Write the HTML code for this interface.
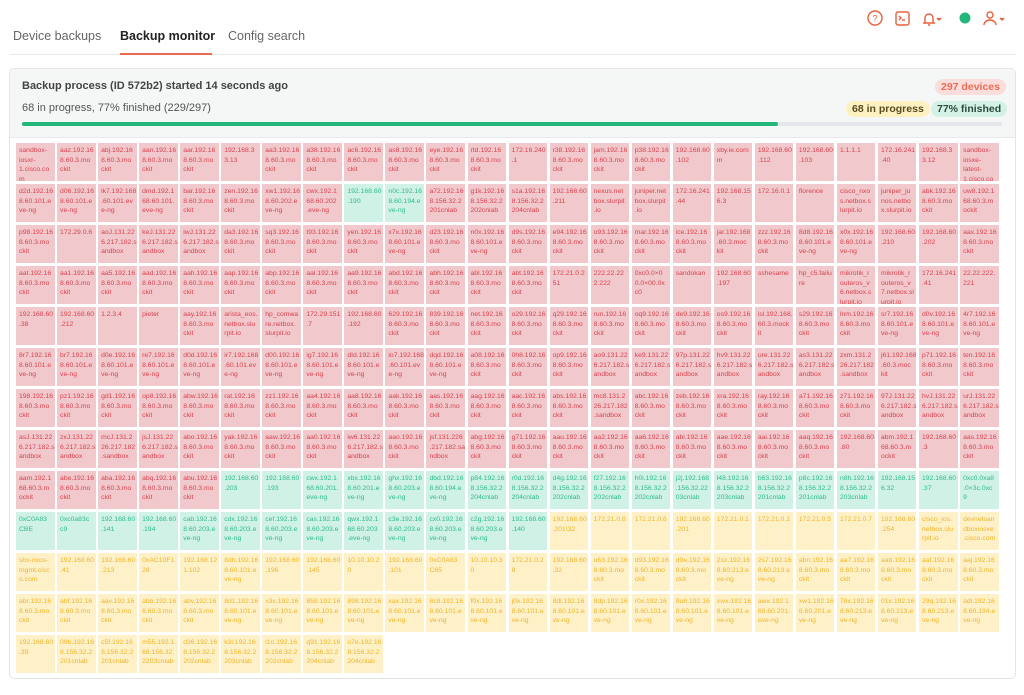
<!DOCTYPE html>
<html><head><meta charset="utf-8">
<style>
*{box-sizing:border-box;margin:0;padding:0}
body{width:1024px;height:695px;background:#fff;font-family:"Liberation Sans",sans-serif;position:relative;overflow:hidden;color:#333}
.tab{position:absolute;top:29px;font-size:12.5px;color:#666}
.tabline{position:absolute;left:10px;top:54px;width:1006px;height:1px;background:#e8e9eb}
.card{position:absolute;left:9px;top:68px;width:1007px;height:611px;border:1px solid #e2e4e6;border-radius:5px;background:#fff}
.head{position:absolute;left:0;top:0;width:100%;height:69px;background:#f5f6f6;border-bottom:1px solid #e6e8ea;border-radius:5px 5px 0 0}
.badge{position:absolute;height:16px;line-height:16px;border-radius:8px;font-size:10.5px;font-weight:bold;padding:0 6px}
.grid{position:absolute;left:16px;top:143px;display:grid;grid-template-columns:repeat(24,38.5px);grid-auto-rows:38px;column-gap:2.55px;row-gap:3px}
.grid i{font-style:normal;display:block;background:#f1c9cc;color:#d8424f;font-size:6.8px;line-height:9.6px;padding:3px 0 0 3px;white-space:nowrap;overflow:hidden}
.grid i.g{background:#d0f1e6;color:#2dbd88}
.grid i.y{background:#fef1c8;color:#f0b429}
.ic{position:absolute;top:10px}
</style></head><body>
<div class="tab" style="left:13px">Device backups</div>
<div class="tab" style="left:120px;color:#222;font-weight:bold">Backup monitor</div>
<div class="tab" style="left:228px">Config search</div>
<div class="tabline"></div>
<div style="position:absolute;left:120px;top:53px;width:92px;height:2px;background:#ef6a4c"></div>
<svg class="ic" style="left:866px" width="150" height="18" viewBox="0 0 150 18" fill="none" stroke="#e8603c" stroke-width="1.4">
<circle cx="9" cy="8" r="7"/><text x="9" y="11.5" font-size="9" text-anchor="middle" fill="#e8603c" stroke="none" font-family="Liberation Sans">?</text>
<rect x="30" y="2" width="13" height="13" rx="2"/><path d="M33 6l2 2-2 2M36 10h3"/>
<path d="M57 13h12M59 13V8a4 4 0 0 1 8 0v5M62 15h2"/><path d="M71 8l2 2 2-2" fill="#e8603c"/>
<circle cx="99" cy="8" r="5.5" fill="#22b67a" stroke="none"/>
<circle cx="124" cy="5" r="3"/><path d="M118 15a6 5 0 0 1 12 0"/><path d="M134 8l2 2 2-2" fill="#e8603c"/>
</svg>
<div class="card">
<div class="head">
<div style="position:absolute;left:12px;top:11px;font-size:11px;font-weight:bold;color:#444">Backup process (ID 572b2) started 14 seconds ago</div>
<div style="position:absolute;left:12px;top:33px;font-size:11px;color:#555">68 in progress, 77% finished (229/297)</div>
<div style="position:absolute;left:12px;top:53px;width:980px;height:4px;background:#e4e6e9;border-radius:2px"><div style="width:756px;height:4px;background:#22b67a;border-radius:2px"></div></div>
<div class="badge" style="left:925px;top:10px;background:#fbdedb;color:#ee6b55">297 devices</div>
<div class="badge" style="left:836px;top:32px;background:#fdf1c2;color:#5a4a20">68 in progress</div>
<div class="badge" style="left:921px;top:32px;background:#d3f1e5;color:#2d4a3e">77% finished</div>
</div>
</div>
<div class="grid">
<i>sandbox-<br>iosxr-<br>1.cisco.co<br>m</i><i>aaz.192.16<br>8.60.3.mo<br>ckit</i><i>abj.192.16<br>8.60.3.mo<br>ckit</i><i>aan.192.16<br>8.60.3.mo<br>ckit</i><i>aar.192.16<br>8.60.3.mo<br>ckit</i><i>192.168.3<br>3.13</i><i>aa3.192.16<br>8.60.3.mo<br>ckit</i><i>a38.192.16<br>8.60.3.mo<br>ckit</i><i>ac6.192.16<br>8.60.3.mo<br>ckit</i><i>as8.192.16<br>8.60.3.mo<br>ckit</i><i>eye.192.16<br>8.60.3.mo<br>ckit</i><i>rtd.192.16<br>8.60.3.mo<br>ckit</i><i>172.16.240<br>.1</i><i>r38.192.16<br>8.60.3.mo<br>ckit</i><i>jam.192.16<br>8.60.3.mo<br>ckit</i><i>p38.192.16<br>8.60.3.mo<br>ckit</i><i>192.168.60<br>.102</i><i>xby.ie.com<br>m</i><i>192.168.60<br>.112</i><i>192.168.60<br>.103</i><i>1.1.1.1</i><i>172.16.241<br>.40</i><i>192.168.3<br>3.12</i><i>sandbox-<br>iosxe-<br>latest-<br>1.cisco.co</i>
<i>d2d.192.16<br>8.60.101.e<br>ve-ng</i><i>d06.192.16<br>8.60.101.e<br>ve-ng</i><i>lk7.192.168<br>.60.101.ev<br>e-ng</i><i>dmd.192.1<br>68.60.101.<br>eve-ng</i><i>bar.192.16<br>8.60.3.mo<br>ckit</i><i>zen.192.16<br>8.60.3.mo<br>ckit</i><i>xw1.192.16<br>8.60.202.e<br>ve-ng</i><i>cwx.192.1<br>68.60.202<br>.eve-ng</i><i class="g">192.168.60<br>.190</i><i class="g">n0c.192.16<br>8.60.194.e<br>ve-ng</i><i>a72.192.16<br>8.156.32.2<br>201cnlab</i><i>g1k.192.16<br>8.156.32.2<br>202cnlab</i><i>s1a.192.16<br>8.156.32.2<br>204cnlab</i><i>192.168.60<br>.211</i><i>nexus.net<br>box.slurpit<br>.io</i><i>juniper.net<br>box.slurpit<br>.io</i><i>172.16.241<br>.44</i><i>192.168.15<br>6.3</i><i>172.16.0.1</i><i>florence</i><i>cisco_nxo<br>s.netbox.s<br>lurpit.io</i><i>juniper_ju<br>nos.netbo<br>x.slurpit.io</i><i>abk.192.16<br>8.60.3.mo<br>ckit</i><i>uw8.192.1<br>68.60.3.m<br>ockit</i>
<i>p98.192.16<br>8.60.3.mo<br>ckit</i><i>172.29.0.6</i><i>aoJ.131.22<br>6.217.182.s<br>andbox</i><i>keJ.131.22<br>6.217.182.s<br>andbox</i><i>iwJ.131.22<br>6.217.182.s<br>andbox</i><i>da3.192.16<br>8.60.3.mo<br>ckit</i><i>sq3.192.16<br>8.60.3.mo<br>ckit</i><i>t93.192.16<br>8.60.3.mo<br>ckit</i><i>yen.192.16<br>8.60.3.mo<br>ckit</i><i>x7x.192.16<br>8.60.101.e<br>ve-ng</i><i>d23.192.16<br>8.60.3.mo<br>ckit</i><i>n0x.192.16<br>8.60.101.e<br>ve-ng</i><i>d9s.192.16<br>8.60.3.mo<br>ckit</i><i>e94.192.16<br>8.60.3.mo<br>ckit</i><i>o93.192.16<br>8.60.3.mo<br>ckit</i><i>mar.192.16<br>8.60.3.mo<br>ckit</i><i>ice.192.16<br>8.60.3.mo<br>ckit</i><i>jar.192.168<br>.60.3.moc<br>kit</i><i>zzz.192.16<br>8.60.3.mo<br>ckit</i><i>8d8.192.16<br>8.60.101.e<br>ve-ng</i><i>x0x.192.16<br>8.60.101.e<br>ve-ng</i><i>192.168.60<br>.210</i><i>192.168.60<br>.202</i><i>aax.192.16<br>8.60.3.mo<br>ckit</i>
<i>aat.192.16<br>8.60.3.mo<br>ckit</i><i>aa1.192.16<br>8.60.3.mo<br>ckit</i><i>aa5.192.16<br>8.60.3.mo<br>ckit</i><i>aad.192.16<br>8.60.3.mo<br>ckit</i><i>aah.192.16<br>8.60.3.mo<br>ckit</i><i>aap.192.16<br>8.60.3.mo<br>ckit</i><i>abp.192.16<br>8.60.3.mo<br>ckit</i><i>aal.192.16<br>8.60.3.mo<br>ckit</i><i>aa9.192.16<br>8.60.3.mo<br>ckit</i><i>abd.192.16<br>8.60.3.mo<br>ckit</i><i>abh.192.16<br>8.60.3.mo<br>ckit</i><i>abl.192.16<br>8.60.3.mo<br>ckit</i><i>abt.192.16<br>8.60.3.mo<br>ckit</i><i>172.21.0.2<br>51</i><i>222.22.22<br>2.222</i><i>0xc0.0×0<br>0.0×00.0x<br>c0</i><i>sandokan</i><i>192.168.60<br>.197</i><i>sshesame</i><i>hp_c5.failu<br>re</i><i>mikrotik_r<br>outeros_v<br>6.netbox.s<br>lurpit.io</i><i>mikrotik_r<br>outeros_v<br>7.netbox.sl<br>urpit.io</i><i>172.16.241<br>.41</i><i>22.22.222.<br>221</i>
<i>192.168.60<br>.38</i><i>192.168.60<br>.212</i><i>1.2.3.4</i><i>pieter</i><i>aay.192.16<br>8.60.3.mo<br>ckit</i><i>arista_eos.<br>netbox.slu<br>rpit.io</i><i>hp_comwa<br>re.netbox.<br>slurpit.io</i><i>172.29.151<br>.7</i><i>192.168.60<br>.192</i><i>629.192.16<br>8.60.3.mo<br>ckit</i><i>839.192.16<br>8.60.3.mo<br>ckit</i><i>net.192.16<br>8.60.3.mo<br>ckit</i><i>o29.192.16<br>8.60.3.mo<br>ckit</i><i>q29.192.16<br>8.60.3.mo<br>ckit</i><i>run.192.16<br>8.60.3.mo<br>ckit</i><i>oq9.192.16<br>8.60.3.mo<br>ckit</i><i>de9.192.16<br>8.60.3.mo<br>ckit</i><i>os9.192.16<br>8.60.3.mo<br>ckit</i><i>isl.192.168.<br>60.3.mock<br>it</i><i>s29.192.16<br>8.60.3.mo<br>ckit</i><i>lnm.192.16<br>8.60.3.mo<br>ckit</i><i>sr7.192.16<br>8.60.101.e<br>ve-ng</i><i>d0v.192.16<br>8.60.101.e<br>ve-ng</i><i>4r7.192.16<br>8.60.101.e<br>ve-ng</i>
<i>8r7.192.16<br>8.60.101.e<br>ve-ng</i><i>br7.192.16<br>8.60.101.e<br>ve-ng</i><i>d0e.192.16<br>8.60.101.e<br>ve-ng</i><i>re7.192.16<br>8.60.101.e<br>ve-ng</i><i>d0d.192.16<br>8.60.101.e<br>ve-ng</i><i>ir7.192.168<br>.60.101.ev<br>e-ng</i><i>d00.192.16<br>8.60.101.e<br>ve-ng</i><i>ig7.192.16<br>8.60.101.e<br>ve-ng</i><i>dId.192.16<br>8.60.101.e<br>ve-ng</i><i>io7.192.168<br>.60.101.ev<br>e-ng</i><i>dqd.192.16<br>8.60.101.e<br>ve-ng</i><i>a08.192.16<br>8.60.3.mo<br>ckit</i><i>0h8.192.16<br>8.60.3.mo<br>ckit</i><i>op9.192.16<br>8.60.3.mo<br>ckit</i><i>ao9.131.22<br>6.217.182.s<br>andbox</i><i>ke9.131.22<br>6.217.182.s<br>andbox</i><i>97p.131.22<br>6.217.182.s<br>andbox</i><i>hv9.131.22<br>6.217.182.s<br>andbox</i><i>ure.131.22<br>6.217.182.s<br>andbox</i><i>as3.131.22<br>6.217.182.s<br>andbox</i><i>zxm.131.2<br>26.217.182<br>.sandbox</i><i>j61.192.168<br>.60.3.moc<br>kit</i><i>p71.192.16<br>8.60.3.mo<br>ckit</i><i>ten.192.16<br>8.60.3.mo<br>ckit</i>
<i>198.192.16<br>8.60.3.mo<br>ckit</i><i>pz1.192.16<br>8.60.3.mo<br>ckit</i><i>gd1.192.16<br>8.60.3.mo<br>ckit</i><i>op8.192.16<br>8.60.3.mo<br>ckit</i><i>abw.192.16<br>8.60.3.mo<br>ckit</i><i>rat.192.16<br>8.60.3.mo<br>ckit</i><i>zz1.192.16<br>8.60.3.mo<br>ckit</i><i>aa4.192.16<br>8.60.3.mo<br>ckit</i><i>aa8.192.16<br>8.60.3.mo<br>ckit</i><i>aak.192.16<br>8.60.3.mo<br>ckit</i><i>aas.192.16<br>8.60.3.mo<br>ckit</i><i>aag.192.16<br>8.60.3.mo<br>ckit</i><i>aac.192.16<br>8.60.3.mo<br>ckit</i><i>abs.192.16<br>8.60.3.mo<br>ckit</i><i>mc8.131.2<br>26.217.182<br>.sandbox</i><i>abc.192.16<br>8.60.3.mo<br>ckit</i><i>zeb.192.16<br>8.60.3.mo<br>ckit</i><i>xra.192.16<br>8.60.3.mo<br>ckit</i><i>ray.192.16<br>8.60.3.mo<br>ckit</i><i>a71.192.16<br>8.60.3.mo<br>ckit</i><i>z71.192.16<br>8.60.3.mo<br>ckit</i><i>97J.131.22<br>6.217.182.s<br>andbox</i><i>hvJ.131.22<br>6.217.182.s<br>andbox</i><i>urJ.131.22<br>6.217.182.s<br>andbox</i>
<i>asJ.131.22<br>6.217.182.s<br>andbox</i><i>zxJ.131.22<br>6.217.182.s<br>andbox</i><i>mcJ.131.2<br>26.217.182<br>.sandbox</i><i>jsJ.131.22<br>6.217.182.s<br>andbox</i><i>abo.192.16<br>8.60.3.mo<br>ckit</i><i>yak.192.16<br>8.60.3.mo<br>ckit</i><i>aaw.192.16<br>8.60.3.mo<br>ckit</i><i>aa0.192.16<br>8.60.3.mo<br>ckit</i><i>iw6.131.22<br>6.217.182.s<br>andbox</i><i>aao.192.16<br>8.60.3.mo<br>ckit</i><i>jsf.131.226<br>.217.182.sa<br>ndbox</i><i>abg.192.16<br>8.60.3.mo<br>ckit</i><i>g71.192.16<br>8.60.3.mo<br>ckit</i><i>aau.192.16<br>8.60.3.mo<br>ckit</i><i>aa2.192.16<br>8.60.3.mo<br>ckit</i><i>aa6.192.16<br>8.60.3.mo<br>ckit</i><i>abi.192.16<br>8.60.3.mo<br>ckit</i><i>aae.192.16<br>8.60.3.mo<br>ckit</i><i>aai.192.16<br>8.60.3.mo<br>ckit</i><i>aaq.192.16<br>8.60.3.mo<br>ckit</i><i>192.168.60<br>.80</i><i>abm.192.1<br>68.60.3.m<br>ockit</i><i>192.168.60<br>.3</i><i>aas.192.16<br>8.60.3.mo<br>ckit</i>
<i>aam.192.1<br>68.60.3.m<br>ockit</i><i>abe.192.16<br>8.60.3.mo<br>ckit</i><i>aba.192.16<br>8.60.3.mo<br>ckit</i><i>abq.192.16<br>8.60.3.mo<br>ckit</i><i>abu.192.16<br>8.60.3.mo<br>ckit</i><i class="g">192.168.60<br>.203</i><i class="g">192.168.60<br>.193</i><i class="g">cwx.192.1<br>68.60.201.<br>eve-ng</i><i class="g">xbx.192.16<br>8.60.201.e<br>ve-ng</i><i class="g">ghx.192.16<br>8.60.203.e<br>ve-ng</i><i class="g">dbd.192.16<br>8.60.194.e<br>ve-ng</i><i class="g">p84.192.16<br>8.156.32.2<br>204cnlab</i><i class="g">r0d.192.16<br>8.156.32.2<br>204cnlab</i><i class="g">d4g.192.16<br>8.156.32.2<br>202cnlab</i><i class="g">f27.192.16<br>8.156.32.2<br>202cnlab</i><i class="g">h0i.192.16<br>8.156.32.2<br>202cnlab</i><i class="g">j2j.192.168<br>.156.32.22<br>03cnlab</i><i class="g">l48.192.16<br>8.156.32.2<br>203cnlab</i><i class="g">b63.192.16<br>8.156.32.2<br>201cnlab</i><i class="g">p8c.192.16<br>8.156.32.2<br>201cnlab</i><i class="g">n8h.192.16<br>8.156.32.2<br>203cnlab</i><i class="g">192.168.15<br>6.32</i><i class="g">192.168.60<br>.37</i><i class="g">0xc0.0xa8<br>.0×3c.0xc<br>9</i>
<i class="g">0xC0A83<br>CBE</i><i class="g">0xc0a83c<br>c9</i><i class="g">192.168.60<br>.141</i><i class="g">192.168.60<br>.194</i><i class="g">cab.192.16<br>8.60.203.e<br>ve-ng</i><i class="g">cdx.192.16<br>8.60.203.e<br>ve-ng</i><i class="g">cef.192.16<br>8.60.203.e<br>ve-ng</i><i class="g">cas.192.16<br>8.60.203.e<br>ve-ng</i><i class="g">qwx.192.1<br>68.60.203<br>.eve-ng</i><i class="g">c3e.192.16<br>8.60.203.e<br>ve-ng</i><i class="g">cx0.192.16<br>8.60.203.e<br>ve-ng</i><i class="g">c2g.192.16<br>8.60.203.e<br>ve-ng</i><i class="g">192.168.60<br>.140</i><i class="y">192.168.60<br>.201\32</i><i class="y">172.21.0.8</i><i class="y">172.21.0.6</i><i class="y">192.168.60<br>.201</i><i class="y">172.21.0.1</i><i class="y">172.21.0.2</i><i class="y">172.21.0.5</i><i class="y">172.21.0.7</i><i class="y">192.168.60<br>.254</i><i class="y">cisco_ios.<br>netbox.slu<br>rpit.io</i><i class="y">devnetsan<br>dboxiosxe<br>.cisco.com</i>
<i class="y">sbx-nxos-<br>mgmt.cisc<br>o.com</i><i class="y">192.168.60<br>.41</i><i class="y">192.168.60<br>.213</i><i class="y">0xAC10F1<br>28</i><i class="y">192.168.12<br>1.102</i><i class="y">8dh.192.16<br>8.60.101.e<br>ve-ng</i><i class="y">192.168.60<br>.196</i><i class="y">192.168.60<br>.145</i><i class="y">10.10.10.2<br>0</i><i class="y">192.168.60<br>.101</i><i class="y">0xC0A83<br>C65</i><i class="y">10.10.10.3<br>0</i><i class="y">172.21.0.2<br>8</i><i class="y">192.168.60<br>.32</i><i class="y">u63.192.16<br>8.60.3.mo<br>ckit</i><i class="y">d93.192.16<br>8.60.3.mo<br>ckit</i><i class="y">d9e.192.16<br>8.60.3.mo<br>ckit</i><i class="y">2sx.192.16<br>8.60.213.e<br>ve-ng</i><i class="y">2s7.192.16<br>8.60.213.e<br>ve-ng</i><i class="y">abn.192.16<br>8.60.3.mo<br>ckit</i><i class="y">aa7.192.16<br>8.60.3.mo<br>ckit</i><i class="y">aab.192.16<br>8.60.3.mo<br>ckit</i><i class="y">aaf.192.16<br>8.60.3.mo<br>ckit</i><i class="y">aaj.192.16<br>8.60.3.mo<br>ckit</i>
<i class="y">abr.192.16<br>8.60.3.mo<br>ckit</i><i class="y">abf.192.16<br>8.60.3.mo<br>ckit</i><i class="y">aav.192.16<br>8.60.3.mo<br>ckit</i><i class="y">abb.192.16<br>8.60.3.mo<br>ckit</i><i class="y">abv.192.16<br>8.60.3.mo<br>ckit</i><i class="y">8d1.192.16<br>8.60.101.e<br>ve-ng</i><i class="y">x3x.192.16<br>8.60.101.e<br>ve-ng</i><i class="y">858.192.16<br>8.60.101.e<br>ve-ng</i><i class="y">898.192.16<br>8.60.101.e<br>ve-ng</i><i class="y">xax.192.16<br>8.60.101.e<br>ve-ng</i><i class="y">8c8.192.16<br>8.60.101.e<br>ve-ng</i><i class="y">f0x.192.16<br>8.60.101.e<br>ve-ng</i><i class="y">j0x.192.16<br>8.60.101.e<br>ve-ng</i><i class="y">8dl.192.16<br>8.60.101.e<br>ve-ng</i><i class="y">8dp.192.16<br>8.60.101.e<br>ve-ng</i><i class="y">r0x.192.16<br>8.60.101.e<br>ve-ng</i><i class="y">8u8.192.16<br>8.60.101.e<br>ve-ng</i><i class="y">xwx.192.16<br>8.60.101.e<br>ve-ng</i><i class="y">awx.192.1<br>68.60.201.<br>eve-ng</i><i class="y">xw1.192.16<br>8.60.201.e<br>ve-ng</i><i class="y">78x.192.16<br>8.60.213.e<br>ve-ng</i><i class="y">01x.192.16<br>8.60.213.e<br>ve-ng</i><i class="y">29q.192.16<br>8.60.213.e<br>ve-ng</i><i class="y">adl.192.16<br>8.60.194.e<br>ve-ng</i>
<i class="y">192.168.60<br>.39</i><i class="y">09b.192.16<br>8.156.32.2<br>201cnlab</i><i class="y">c5f.192.16<br>8.156.32.2<br>201cnlab</i><i class="y">m55.192.1<br>68.156.32.<br>2203cnlab</i><i class="y">d36.192.16<br>8.156.32.2<br>202cnlab</i><i class="y">k3l.192.16<br>8.156.32.2<br>203cnlab</i><i class="y">l1o.192.16<br>8.156.32.2<br>202cnlab</i><i class="y">q91.192.16<br>8.156.32.2<br>204cnlab</i><i class="y">o7e.192.16<br>8.156.32.2<br>204cnlab</i>
</div>
</body></html>
